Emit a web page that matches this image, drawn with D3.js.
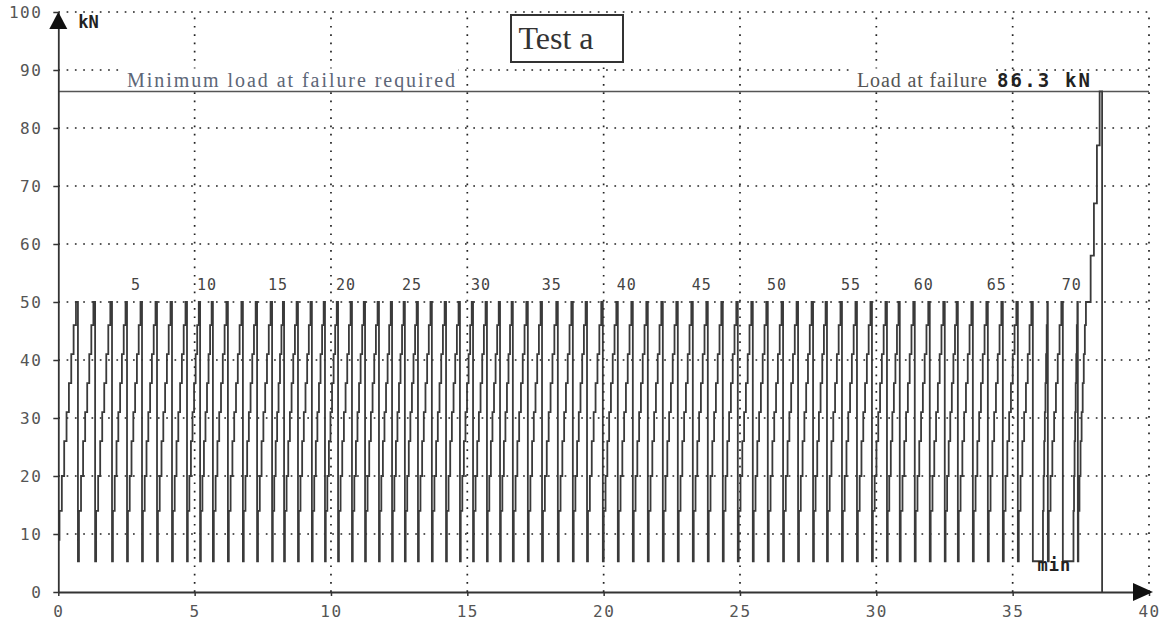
<!DOCTYPE html>
<html>
<head>
<meta charset="utf-8">
<script src="https://cdn.jsdelivr.net/npm/d3@7"></script>
<style>
  body { margin: 0; background: #fff; }
  svg { display: block; }
  .mono { font-family: "DejaVu Sans Mono", monospace; }
  .serif { font-family: "Liberation Serif", "Times New Roman", serif; }
</style>
</head>
<body>
<svg id="chart" width="1162" height="621"></svg>
<script>
/* Achsen */
const xTicks = [0, 5, 10, 15, 20, 25, 30, 35, 40];
const yTicks = [0, 10, 20, 30, 40, 50, 60, 70, 80, 90, 100];

/* Zyklen: Zeitpunkt, an dem die Last von 50 auf min faellt */
const dropTimes = [
  0.72, 1.35, 1.97, 2.52, 3.07, 3.62, 4.17, 4.72, 5.20, 5.67,
  6.22, 6.77, 7.29, 7.84, 8.28, 8.79, 9.30, 9.78, 10.26, 10.77,
  11.25, 11.76, 12.24, 12.71, 13.19, 13.70, 14.22, 14.73, 15.21, 15.72,
  16.20, 16.67, 17.22, 17.74, 18.32, 18.87, 19.39, 19.97, 20.52, 21.07,
  21.62, 22.17, 22.72, 23.27, 23.82, 24.37, 24.92, 25.47, 26.02, 26.58,
  27.13, 27.68, 28.19, 28.74, 29.29, 29.84, 30.39, 30.86, 31.41, 31.96,
  32.51, 32.99, 33.54, 34.09, 34.64, 35.19, 35.74, 36.29, 36.84, 37.39
];
const cycleLabels = [5, 10, 15, 20, 25, 30, 35, 40, 45, 50, 55, 60, 65, 70];

/* Haltezeiten bei min: [Zyklus, bis] */
const minHolds = [[67, 36.10], [69, 37.22]];

/* Treppenstufen eines Lastanstiegs (Anteil am Intervall, Last) */
const stepFractions = [0.06, 0.18, 0.30, 0.42, 0.54, 0.66, 0.78, 0.90];
const stepLoads     = [14, 20, 26, 31, 36, 41, 46, 50];

const startLoad = 9;
const minLoad   = 5.3;
const peakLoad  = 50;

/* Bruchversuch */
const finalPeakTime = 37.72;
const failureTimes  = [37.86, 37.98, 38.09, 38.19, 38.28];
const failureLoads  = [58, 67, 77, 86.3, 0];
const failureLoad   = 86.3;

/* Layout */
const svg = d3.select("#chart");
const x = d3.scaleLinear().domain([0, 40]).range([58.3, 1149]);
const y = d3.scaleLinear().domain([0, 100]).range([592, 12]);
const ink = "#333";

/* Gitter */
const grid = svg.append("g");
grid.selectAll(".hg")
  .data(yTicks.filter(d => d > 0))
  .enter().append("line")
    .attr("x1", x(0)).attr("x2", x(40))
    .attr("y1", d => y(d)).attr("y2", d => y(d));
grid.selectAll(".vg")
  .data(xTicks.filter(d => d > 0))
  .enter().append("line")
    .attr("x1", d => x(d)).attr("x2", d => x(d))
    .attr("y1", y(0)).attr("y2", y(100));
grid.selectAll("line")
  .attr("stroke", "#222")
  .attr("stroke-width", 1.7)
  .attr("stroke-dasharray", "1.7 6.6");

/* Beschriftungen oben mit weissem Hintergrund */
const labels = svg.append("g");

function addText(txt, tx, ty, cls, size, fill, len) {
  return labels.append("text")
    .attr("class", cls)
    .attr("x", tx).attr("y", ty)
    .attr("textLength", len)
    .attr("lengthAdjust", "spacing")
    .style("font-size", size + "px")
    .attr("fill", fill)
    .text(txt);
}

function whiteBehind(t) {
  const b = t.node().getBBox();
  labels.insert("rect", "text")
    .attr("x", b.x - 3).attr("y", b.y - 1)
    .attr("width", b.width + 6).attr("height", b.height - 2)
    .attr("fill", "#fff");
}

whiteBehind(addText("Minimum load at failure required", 127, y(failureLoad) - 4, "serif", 20, "#5d6677", 328));
whiteBehind(addText("Load at failure", 857, y(failureLoad) - 4, "serif", 20, "#555", 130));
addText("86.3 kN", 997, y(failureLoad) - 4, "mono", 19, "#222", 93)
  .style("font-weight", "bold");

/* Linie Mindestbruchlast */
svg.append("line")
  .attr("x1", x(0)).attr("x2", x(40))
  .attr("y1", y(failureLoad)).attr("y2", y(failureLoad))
  .attr("stroke", "#555").attr("stroke-width", 1.6);

/* Titelkasten */
const titleG = svg.append("g");
titleG.append("rect")
  .attr("x", 511).attr("y", 15).attr("width", 112).attr("height", 47)
  .attr("fill", "#fff").attr("stroke", ink).attr("stroke-width", 2);
titleG.append("text")
  .attr("class", "serif")
  .attr("x", 556).attr("y", 49)
  .attr("text-anchor", "middle")
  .style("font-size", "32px")
  .attr("fill", "#333")
  .text("Test a");

/* Lastverlauf */
function addRise(pts, t0, t1) {
  let cur = pts[pts.length - 1][1];
  stepFractions.forEach((f, k) => {
    const lv = stepLoads[k];
    if (lv <= cur) return;
    const t = t0 + f * (t1 - t0);
    pts.push([t, cur], [t, lv]);
    cur = lv;
  });
  pts.push([t1, cur]);
}

const holdMap = new Map(minHolds);
let pts = [[0, startLoad]];
let riseStart = 0;
dropTimes.forEach((d, i) => {
  addRise(pts, riseStart, d);
  pts.push([d, peakLoad], [d, minLoad]);
  riseStart = d;
  const hold = holdMap.get(i + 1);
  if (hold !== undefined) {
    pts.push([hold, minLoad]);
    riseStart = hold;
  }
});
addRise(pts, riseStart, finalPeakTime);
let cur = pts[pts.length - 1][1];
failureTimes.forEach((t, k) => {
  pts.push([t, cur], [t, failureLoads[k]]);
  cur = failureLoads[k];
});

const line = d3.line()
  .x(d => x(d[0]))
  .y(d => y(d[1]));

svg.append("path")
  .datum(pts)
  .attr("d", line)
  .attr("fill", "none")
  .attr("stroke", "#3a3a3a")
  .attr("stroke-width", 1.8)
  .attr("stroke-linejoin", "miter");

/* Zyklusnummern */
svg.append("g").selectAll("text")
  .data(cycleLabels)
  .enter().append("text")
    .attr("class", "mono")
    .attr("x", d => x(dropTimes[d - 1]) - 6)
    .attr("y", y(peakLoad) - 12)
    .attr("text-anchor", "middle")
    .style("font-size", "15px")
    .style("letter-spacing", "1px")
    .attr("fill", "#444")
    .text(d => d);

svg.append("text")
  .attr("class", "mono")
  .attr("x", x((dropTimes[66] + dropTimes[69]) / 2) - 1)
  .attr("y", y(minLoad) + 10)
  .attr("text-anchor", "middle")
  .style("font-size", "17px")
  .style("font-weight", "bold")
  .style("letter-spacing", "1px")
  .attr("fill", "#222")
  .text("min");

/* Achsen */
const yAxis = svg.append("g")
  .attr("transform", `translate(${x(0)},0)`)
  .call(d3.axisLeft(y).tickValues(yTicks).tickSize(5).tickSizeOuter(0).tickPadding(11));
const xAxis = svg.append("g")
  .attr("transform", `translate(0,${y(0)})`)
  .call(d3.axisBottom(x).tickValues(xTicks).tickSize(4).tickSizeOuter(0).tickPadding(10));

[yAxis, xAxis].forEach(a => {
  a.select(".domain").attr("stroke", ink).attr("stroke-width", 1.8);
  a.selectAll(".tick line").attr("stroke", ink).attr("stroke-width", 1.5);
  a.selectAll(".tick text")
    .attr("class", "mono")
    .style("font-size", "16px")
    .style("letter-spacing", "1.5px")
    .attr("fill", "#555");
});

/* Pfeilspitzen */
svg.append("path")
  .attr("d", `M${x(0)},${y(100)} L${x(0) - 9},${y(100) + 17} L${x(0) + 9},${y(100) + 17} Z`)
  .attr("fill", "#111");
svg.append("path")
  .attr("d", `M${x(40) + 4},${y(0)} L${x(40) - 16},${y(0) - 9} L${x(40) - 16},${y(0) + 9} Z`)
  .attr("fill", "#111");

svg.append("text")
  .attr("class", "mono")
  .attr("x", x(0) + 20).attr("y", y(100) + 16)
  .style("font-size", "17px")
  .style("font-weight", "bold")
  .attr("fill", "#222")
  .text("kN");
</script>
</body>
</html>
